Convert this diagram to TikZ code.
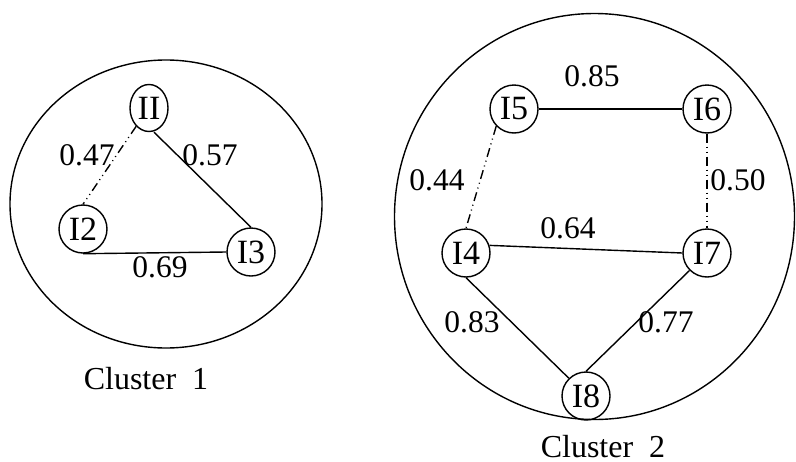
\documentclass[tikz,border=0pt]{standalone}
\usepackage{fontspec}
\setmainfont{Liberation Serif}
\usetikzlibrary{shapes.geometric}
\tikzset{
  item/.style={draw, circle, line width=1.4pt, minimum size=48pt, inner sep=0pt, font=\fontsize{34}{34}\selectfont},
  itemnarrow/.style={draw, ellipse, line width=1.4pt, minimum width=38pt, minimum height=47pt, inner sep=0pt, font=\fontsize{34}{34}\selectfont},
  lbl/.style={font=\fontsize{31.5}{31.5}\selectfont, inner sep=0pt},
  ttl/.style={font=\fontsize{32}{32}\selectfont, inner sep=0pt, anchor=base},
  edge/.style={line width=1.4pt},
  weak/.style={line width=1.4pt, dash pattern=on 9pt off 4pt on 1pt off 4pt on 1pt off 4pt},
  cluster/.style={draw, ellipse, line width=1.4pt, inner sep=0pt}
}
\begin{document}
\begin{tikzpicture}[x=1pt, y=-1pt]
\useasboundingbox (0,0) rectangle (796,461);
% clusters
\node[cluster, minimum width=312pt, minimum height=288pt] (c1) at (166,204) {};
\node[cluster, minimum width=400pt, minimum height=406pt] (c2) at (594.5,216.5) {};
% cluster 1 nodes
\node[itemnarrow] (i1) at (149,108) {II};
\node[item] (i2) at (83,229) {I2};
\node[item] (i3) at (251,252) {I3};
% cluster 2 nodes
\node[item] (i5) at (514,109) {I5};
\node[item] (i6) at (707,109) {I6};
\node[item] (i4) at (466,253) {I4};
\node[item] (i7) at (707,253) {I7};
\node[item] (i8) at (586,396) {I8};
% edges cluster 1
\draw[weak] (i1.235) -- (i2.north);
\draw[edge] (i1.south) ++(5,0) coordinate (i1s) (i1s) -- (i3.north);
\draw[edge] (i2.south) -- (i3.west);
% edges cluster 2
\draw[edge] (i5.east) -- (i6.west);
\draw[weak] (i5.224) -- (i4.north);
\draw[weak] (i6.south) -- (i7.north);
\draw[edge] (i4.18) -- (i7.west);
\draw[edge] (i4.south) -- (i8.134);
\draw[edge] (i7.225) -- (i8.north);
% labels
\node[lbl] (l47) at (87,155) {0.47};
\node[lbl] (l57) at (210,155) {0.57};
\node[lbl] (l69) at (160,267) {0.69};
\node[lbl] (l85) at (592,76) {0.85};
\node[lbl] (l44) at (437,180) {0.44};
\node[lbl] (l50) at (738,180) {0.50};
\node[lbl] (l64) at (568,228) {0.64};
\node[lbl] (l83) at (472,322) {0.83};
\node[lbl] (l77) at (666,322) {0.77};
\node[ttl] (t1) at (146,389) {Cluster\ \ 1};
\node[ttl] (t2) at (603,457) {Cluster\ \ 2};
\end{tikzpicture}
\end{document}
